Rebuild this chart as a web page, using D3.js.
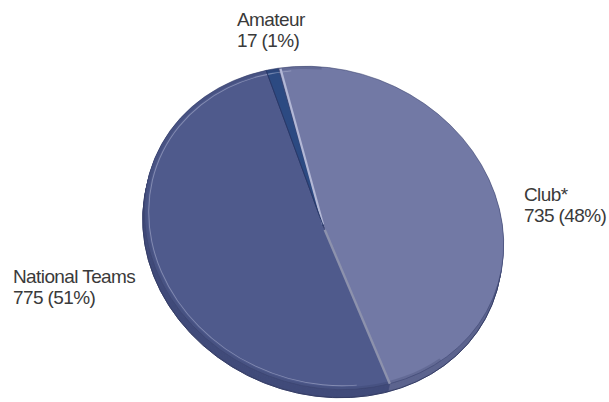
<!DOCTYPE html>
<html>
<head>
<meta charset="utf-8">
<script src="https://cdn.jsdelivr.net/npm/d3@7"></script>
<style>
  html, body { margin: 0; padding: 0; background: #fff; }
  svg { display: block; }
  .lbl { font-family: "Liberation Sans", Arial, Helvetica, sans-serif; font-size: 19px; letter-spacing: -0.6px; fill: #3a3a3a; }
</style>
</head>
<body>
<svg id="chart" width="609" height="402"></svg>
<script>
// Registered players by category
const categories = ["Club*", "National Teams", "Amateur"];
const values = [735, 775, 17];
const percentLabels = ["48%", "51%", "1%"];

const topColors  = ["#7279a5", "#4f5a8c", "#2c4a82"];
const sideColors = ["#5d648f", "#414b7a", "#223c6c"];

const cx = 324, cy = 228;          // disc centre
const R = 183;                     // disc radius (major)
const squash = 158 / 183;          // tilt of the disc
const tilt = 22;                   // in-plane rotation, degrees
const depth = 8;                   // thickness of the disc in px
const start = -34 * Math.PI / 180;

const svg = d3.select("#chart");

const pie = d3.pie().sort(null).value(d => d)
  .startAngle(start).endAngle(start + 2 * Math.PI);
const arcs = pie(values);
const arc = d3.arc().innerRadius(0).outerRadius(R);

const discTransform = (dx, dy) =>
  `translate(${cx + dx},${cy + dy}) rotate(${tilt}) scale(1,${squash})`;

// side of the disc: stacked copies shifted downwards
const side = svg.append("g");
for (let k = depth; k >= 1; k--) {
  const g = side.append("g").attr("transform", discTransform(-k * 0.2, k));
  g.selectAll("path").data(arcs).join("path")
    .attr("d", arc)
    .attr("fill", (d, i) => d3.color(sideColors[i]).darker(k === depth ? 0.4 : 0))
    .attr("stroke", (d, i) => sideColors[i])
    .attr("stroke-width", 0.6)
    .attr("vector-effect", "non-scaling-stroke");
}
// dark outline at the bottom of the side
side.append("g").attr("transform", discTransform(-depth * 0.2, depth))
  .append("ellipse").attr("rx", R).attr("ry", R)
  .attr("fill", "none").attr("stroke", "#353d66").attr("stroke-width", 1)
  .attr("vector-effect", "non-scaling-stroke");

// top face
const face = svg.append("g").attr("transform", discTransform(0, 0));
face.selectAll("path.slice").data(arcs).join("path")
  .attr("class", "slice")
  .attr("d", arc)
  .attr("fill", (d, i) => topColors[i])
  .attr("stroke", "#3e4672")
  .attr("stroke-width", 0.6)
  .attr("vector-effect", "non-scaling-stroke");

// bevel highlight along the rim
const rimLight = d3.arc().innerRadius(R - 5).outerRadius(R - 4);
face.append("path")
  .attr("d", rimLight({ startAngle: 150 * Math.PI / 180, endAngle: 330 * Math.PI / 180 }))
  .attr("fill", "#c4c8e0").attr("opacity", 0.45);
const rimDark = d3.arc().innerRadius(R - 3).outerRadius(R);
face.append("path")
  .attr("d", rimDark({ startAngle: 120 * Math.PI / 180, endAngle: 340 * Math.PI / 180 }))
  .attr("fill", "#2f3760").attr("opacity", 0.22);

// slice separators
const edgeLine = d3.lineRadial();
const bClubStart = arcs[0].startAngle;
const bClubEnd = arcs[0].endAngle;
face.append("path")
  .attr("d", edgeLine([[bClubStart + 0.012, 4], [bClubStart + 0.012, R - 1]]))
  .attr("stroke", "#b3b8d6").attr("stroke-width", 2.2)
  .attr("vector-effect", "non-scaling-stroke");
face.append("path")
  .attr("d", edgeLine([[bClubEnd, 2], [bClubEnd, R]]))
  .attr("stroke", "#8d92ad").attr("stroke-width", 2.4)
  .attr("vector-effect", "non-scaling-stroke");
face.append("path")
  .attr("d", edgeLine([[arcs[2].startAngle, 2], [arcs[2].startAngle, R]]))
  .attr("stroke", "#27386a").attr("stroke-width", 1)
  .attr("vector-effect", "non-scaling-stroke");

// labels
const labelPos = [
  { x: 524, y: 201 },
  { x: 13, y: 283 },
  { x: 237, y: 26 }
];
const lineGap = 21;
const labels = svg.append("g");
arcs.forEach((d, i) => {
  const t = labels.append("text").attr("class", "lbl")
    .attr("x", labelPos[i].x).attr("y", labelPos[i].y);
  t.append("tspan").attr("x", labelPos[i].x).text(categories[i]);
  t.append("tspan").attr("x", labelPos[i].x).attr("dy", lineGap)
    .text(`${values[i]} (${percentLabels[i]})`);
});
</script>
</body>
</html>
